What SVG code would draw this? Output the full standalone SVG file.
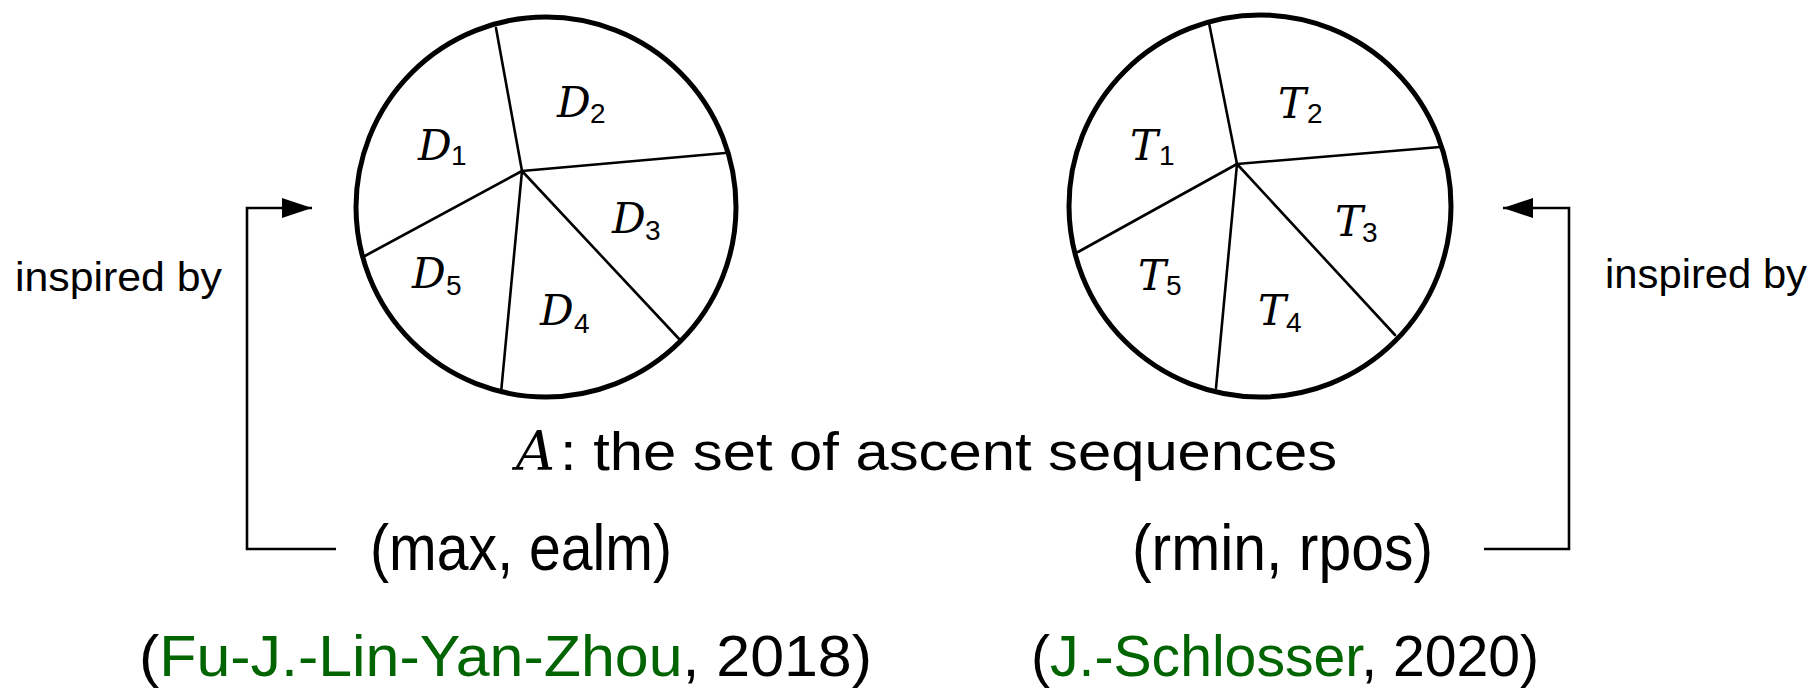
<svg xmlns="http://www.w3.org/2000/svg" width="1819" height="691" viewBox="0 0 1819 691">
<defs>
<style>
.rim{fill:none;stroke:#000;stroke-width:5}
.spoke{fill:none;stroke:#000;stroke-width:2.6;stroke-linecap:round}
.conn{fill:none;stroke:#000;stroke-width:2.6}
.cal{font-family:"DejaVu Serif","Liberation Serif",serif;font-style:italic;font-size:42px;fill:#000}
.sub{font-family:"Liberation Sans",sans-serif;font-size:28px;fill:#000}
.lbl{font-family:"Liberation Sans",sans-serif;fill:#000}
.grn{fill:#006400}
</style>
<marker id="ah" viewBox="0 0 30 20" refX="30" refY="10" markerWidth="30" markerHeight="20" markerUnits="userSpaceOnUse" orient="auto">
<path d="M0,0 L30,10 L0,20 Z" fill="#000"/>
</marker>
</defs>
<rect width="1819" height="691" fill="#fff"/>

<g id="circleD">
<circle class="rim" cx="546" cy="207" r="190"/>
<line class="spoke" x1="522" y1="171" x2="496" y2="28"/>
<line class="spoke" x1="522" y1="171" x2="725" y2="153"/>
<line class="spoke" x1="522" y1="171" x2="681" y2="341"/>
<line class="spoke" x1="522" y1="171" x2="501" y2="393"/>
<line class="spoke" x1="522" y1="171" x2="363" y2="257"/>
<text class="cal" x="418" y="160">D</text><text class="sub" x="451" y="165">1</text>
<text class="cal" x="557" y="117">D</text><text class="sub" x="590" y="123">2</text>
<text class="cal" x="612" y="233">D</text><text class="sub" x="645" y="240">3</text>
<text class="cal" x="540" y="325">D</text><text class="sub" x="574" y="333">4</text>
<text class="cal" x="412" y="288">D</text><text class="sub" x="446" y="295">5</text>
</g>

<g id="circleT">
<circle class="rim" cx="1260" cy="206" r="191"/>
<line class="spoke" x1="1237" y1="164" x2="1209" y2="23"/>
<line class="spoke" x1="1237" y1="164" x2="1440" y2="147"/>
<line class="spoke" x1="1237" y1="164" x2="1395" y2="335"/>
<line class="spoke" x1="1237" y1="164" x2="1216" y2="388"/>
<line class="spoke" x1="1237" y1="164" x2="1078" y2="252"/>
<text class="cal" x="1130" y="160">T</text><text class="sub" x="1159" y="165">1</text>
<text class="cal" x="1278" y="118">T</text><text class="sub" x="1307" y="123">2</text>
<text class="cal" x="1335" y="236">T</text><text class="sub" x="1362" y="242">3</text>
<text class="cal" x="1258" y="325">T</text><text class="sub" x="1286" y="332">4</text>
<text class="cal" x="1138" y="290">T</text><text class="sub" x="1166" y="295">5</text>
</g>

<g id="title">
<text class="cal" x="516" y="470" style="font-size:54px">A</text>
<text class="lbl" x="560" y="470" font-size="54" textLength="777" lengthAdjust="spacingAndGlyphs">: the set of ascent sequences</text>
</g>

<g id="statL">
<text class="lbl" x="370" y="570" font-size="64" textLength="302" lengthAdjust="spacingAndGlyphs">(max, ealm)</text>
</g>
<g id="statR">
<text class="lbl" x="1132" y="570" font-size="64" textLength="301" lengthAdjust="spacingAndGlyphs">(rmin, rpos)</text>
</g>

<g id="refL">
<text class="lbl" x="139" y="676" font-size="58" textLength="733" lengthAdjust="spacingAndGlyphs">(<tspan class="grn">Fu-J.-Lin-Yan-Zhou</tspan>, 2018)</text>
</g>
<g id="refR">
<text class="lbl" x="1031" y="676" font-size="58" textLength="508" lengthAdjust="spacingAndGlyphs">(<tspan class="grn">J.-Schlosser</tspan>, 2020)</text>
</g>

<g id="labelL"><text class="lbl" x="15" y="291" font-size="40" textLength="207" lengthAdjust="spacingAndGlyphs">inspired by</text></g>
<g id="labelR"><text class="lbl" x="1605" y="288" font-size="40" textLength="202" lengthAdjust="spacingAndGlyphs">inspired by</text></g>

<g id="connectors">
<path class="conn" d="M336,549 H247 V208 H312" marker-end="url(#ah)"/>
<path class="conn" d="M1484,549 H1569 V208 H1503" marker-end="url(#ah)"/>
</g>
</svg>
